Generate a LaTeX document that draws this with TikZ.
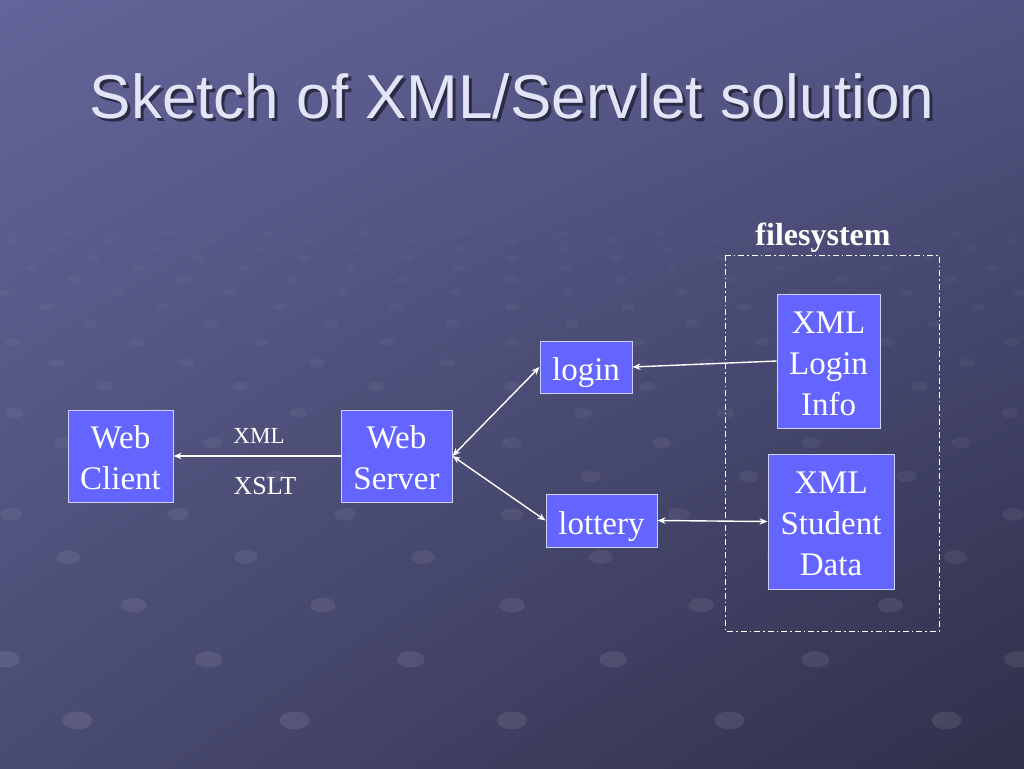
\documentclass[tikz,border=0pt]{standalone}
\usepackage{fontspec}
\setmainfont{Liberation Serif}
\newfontfamily\titlefont{Liberation Sans}
\usetikzlibrary{arrows.meta,shadings}
\definecolor{bgUL}{HTML}{63659A}
\definecolor{bgUR}{HTML}{515382}
\definecolor{bgLL}{HTML}{4A4B72}
\definecolor{bgLR}{HTML}{2F3049}
\definecolor{boxfill}{HTML}{6464FF}
\definecolor{boxline}{HTML}{D0D0FF}
\definecolor{titlecol}{HTML}{E4E4F8}
\definecolor{titleshadow}{HTML}{2A2B44}
\newcommand{\bxstrut}{\rule{0pt}{27pt}}
\newcommand{\shadowtext}[1]{\rlap{\kern3pt\raisebox{-3pt}{\color{titleshadow}#1}}#1}
\tikzset{
  box/.style={draw=boxline, line width=1pt, fill=boxfill, text=white, align=center,
    inner sep=0pt, font=\fontsize{33}{41}\selectfont},
  onebox/.style={box, text height=27pt, text depth=0pt},
  arr/.style={draw=white, line width=1.4pt, -{Stealth[length=8pt,width=6.5pt]}},
  arrtwo/.style={draw=white, line width=1.4pt, {Stealth[length=8pt,width=6.5pt]}-{Stealth[length=8pt,width=6.5pt]}},
  lbl/.style={text=white, inner sep=0pt},
  fsbox/.style={draw=white, line width=1pt, dash pattern=on 6pt off 3pt on 1.5pt off 3pt},
  bgdot/.style={fill=white}
}
\begin{document}
\begin{tikzpicture}[x=1pt,y=-1pt]
\useasboundingbox (0,0) rectangle (1024,768);
\shade[upper left=bgUL, upper right=bgUR, lower left=bgLL, lower right=bgLR] (0,0) rectangle (1024,768);
% background dots
\foreach \k in {8,...,28} {
  \pgfmathsetmacro{\yy}{177+21.8*1.1265^\k}
  \pgfmathsetmacro{\hh}{122+0.244*(\yy-330)}
  \pgfmathsetmacro{\off}{mod(\k+1,2)/2}
  \pgfmathsetmacro{\ss}{(\yy-177)/591}
  \pgfmathsetmacro{\rx}{4+12*\ss}
  \pgfmathsetmacro{\ry}{2+7.5*\ss}
  \pgfmathsetmacro{\op}{0.015+0.085*\ss}
  \foreach \i in {-7,...,7} {
    \fill[bgdot, opacity=\op] ({512+(\i+\off)*\hh},\yy) ellipse ({\rx} and {\ry});
  }
}
% title
\node[anchor=base, text=titlecol, font=\titlefont\fontsize{62}{70}\selectfont] (title) at (512,118) {\shadowtext{Sketch of XML/Servlet solution}};
% filesystem
\draw[fsbox] (725,255) rectangle (939,631);
\node[lbl, font=\bfseries\fontsize{32}{36}\selectfont] (fslabel) at (823,238) {filesystem};
% boxes
\node[box, minimum width=105pt, minimum height=92pt] (client) at (120.5,456) {\bxstrut Web\\Client};
\node[box, minimum width=111pt, minimum height=92pt] (server) at (396.5,456) {\bxstrut Web\\Server};
\node[onebox, minimum width=92pt, minimum height=52pt] (login) at (586,367) {login};
\node[onebox, minimum width=111pt, minimum height=53pt] (lottery) at (601.5,520.5) {lottery};
\node[box, minimum width=103pt, minimum height=134pt] (xlogin) at (828.5,361) {\bxstrut XML\\Login\\Info};
\node[box, minimum width=126pt, minimum height=135pt] (xstudent) at (831,521.5) {\bxstrut XML\\Student\\Data};
% labels
\node[lbl, font=\fontsize{23}{26}\selectfont] (lxml) at (259,436) {XML};
\node[lbl, font=\fontsize{26}{30}\selectfont] (lxslt) at (265,486) {XSLT};
% connectors
\draw[arr] (server.west) -- (client.east);
\draw[arrtwo] (server.east) -- (login.west);
\draw[arrtwo] (server.east) -- (lottery.west);
\draw[arr] (xlogin.west) -- (login.east);
\draw[arrtwo] (lottery.east) -- (xstudent.west);
\end{tikzpicture}
\end{document}
